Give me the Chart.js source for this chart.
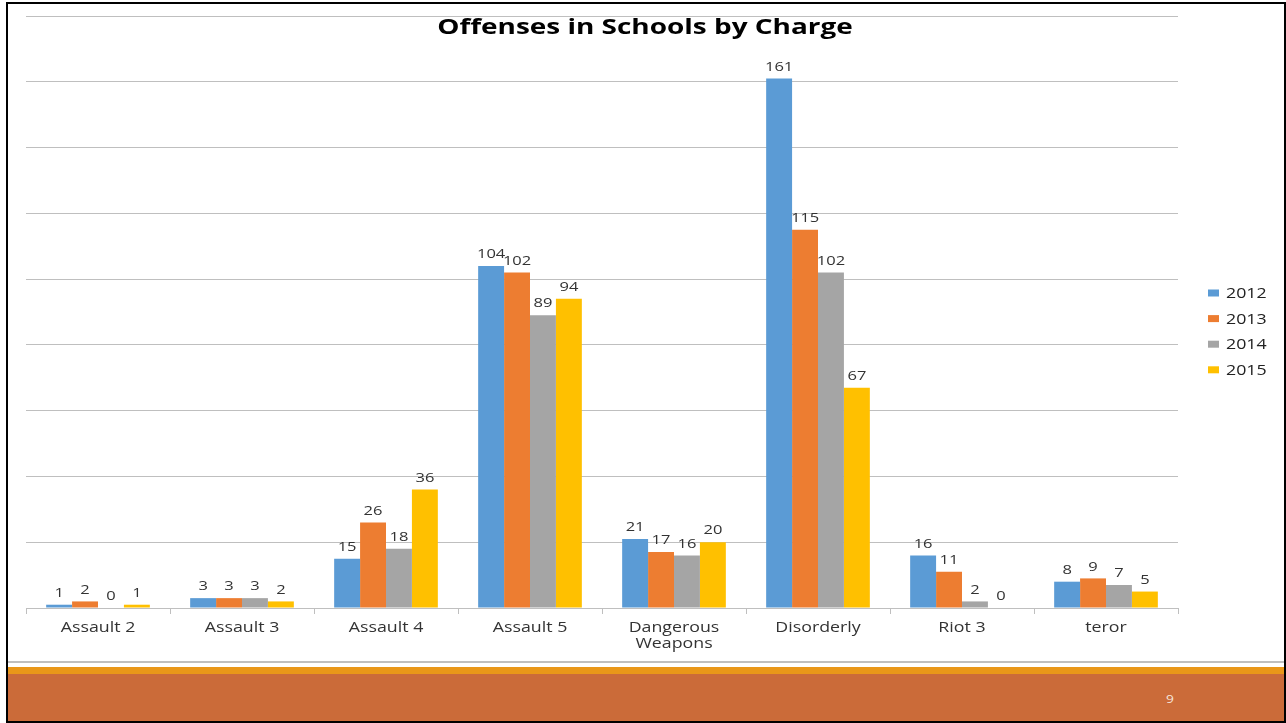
<!DOCTYPE html>
<html>
<head>
<meta charset="utf-8">
<title>Offenses in Schools by Charge</title>
<script src="https://cdn.jsdelivr.net/npm/chart.js@4.4.1/dist/chart.umd.min.js"></script>
<style>
  html, body { margin: 0; padding: 0; background: #fff; }
  #slide { position: relative; width: 1286px; height: 723px; overflow: hidden; background: #fff; }
  #chartBox { position: absolute; left: 0; top: 0; width: 1286px; height: 662px; }
  #rule { position: absolute; left: 8px; top: 661px; width: 1276px; height: 2px; background: #bfbfbf; }
  #stripe { position: absolute; left: 8px; top: 667px; width: 1276px; height: 7px; background: #e99719; }
  #band { position: absolute; left: 8px; top: 674px; width: 1276px; height: 47px; background: #cb6b39; }
  #pageNo { position: absolute; left: 1163px; top: 691px; width: 14px; text-align: center;
            font: 11px "Open Sans", sans-serif; color: #f6e6dc; transform: scaleX(1.25); }
  #frame { position: absolute; left: 6px; top: 2px; width: 1280px; height: 721px;
           border: 2px solid #000; box-sizing: border-box; pointer-events: none; }
</style>
</head>
<body>
<div id="slide">
  <div id="chartBox"><canvas id="chart" width="1286" height="662"></canvas></div>
  <div id="rule"></div>
  <div id="stripe"></div>
  <div id="band"></div>
  <div id="pageNo">9</div>
  <div id="frame"></div>
</div>
<script>
// Charges and yearly counts
const categories = ['Assault 2', 'Assault 3', 'Assault 4', 'Assault 5', ['Dangerous', 'Weapons'], 'Disorderly', 'Riot 3', 'teror'];
const years = ['2012', '2013', '2014', '2015'];
const counts2012 = [1, 3, 15, 104, 21, 161, 16, 8];
const counts2013 = [2, 3, 26, 102, 17, 115, 11, 9];
const counts2014 = [0, 3, 18, 89, 16, 102, 2, 7];
const counts2015 = [1, 2, 36, 94, 20, 67, 0, 5];
const yearColors = ['#5b9bd5', '#ed7d31', '#a5a5a5', '#ffc000'];
const chartTitle = 'Offenses in Schools by Charge';

const FONT = '"Open Sans", "DejaVu Sans", sans-serif';
const TEXT = '#404040';
const WIDE = 1.27; // slide text is set wide

// Draw text stretched horizontally around its anchor
function wideText(ctx, str, x, y, sx) {
  ctx.save();
  ctx.translate(x, y);
  ctx.scale(sx, 1);
  ctx.fillText(str, 0, 0);
  ctx.restore();
}

// Value labels above each bar
const valueLabels = {
  id: 'valueLabels',
  afterDatasetsDraw(chart) {
    const ctx = chart.ctx;
    ctx.save();
    ctx.font = '13px ' + FONT;
    ctx.fillStyle = '#333';
    ctx.textAlign = 'center';
    ctx.textBaseline = 'bottom';
    chart.data.datasets.forEach((ds, i) => {
      const meta = chart.getDatasetMeta(i);
      meta.data.forEach((bar, j) => {
        wideText(ctx, String(ds.data[j]), bar.x, bar.y - 5, WIDE);
      });
    });
    ctx.restore();
  }
};

// Category names under the axis
const categoryLabels = {
  id: 'categoryLabels',
  afterDraw(chart) {
    const ctx = chart.ctx;
    const xs = chart.scales.x;
    ctx.save();
    ctx.font = '14px ' + FONT;
    ctx.fillStyle = '#333';
    ctx.textAlign = 'center';
    ctx.textBaseline = 'middle';
    chart.data.labels.forEach((lab, i) => {
      const lines = Array.isArray(lab) ? lab : [lab];
      const x = xs.getPixelForTick(i);
      lines.forEach((ln, k) => {
        wideText(ctx, ln, x, xs.top + 20 + k * 16.5, WIDE);
      });
    });
    ctx.restore();
  }
};

// Title across the top
const topTitle = {
  id: 'topTitle',
  afterDraw(chart) {
    const ctx = chart.ctx;
    ctx.save();
    ctx.font = 'bold 22px ' + FONT;
    ctx.fillStyle = '#000';
    ctx.textAlign = 'center';
    ctx.textBaseline = 'middle';
    wideText(ctx, chartTitle, 645, 28, WIDE);
    ctx.restore();
  }
};

// Series key at the right
const sideLegend = {
  id: 'sideLegend',
  afterDraw(chart) {
    const ctx = chart.ctx;
    ctx.save();
    ctx.font = '14px ' + FONT;
    ctx.textBaseline = 'middle';
    ctx.textAlign = 'left';
    chart.data.datasets.forEach((ds, i) => {
      const cy = 293 + i * 25.6;
      ctx.fillStyle = ds.backgroundColor;
      ctx.fillRect(1208, cy - 3.5, 11, 7);
      ctx.fillStyle = '#222';
      wideText(ctx, ds.label, 1226, cy + 1, WIDE);
    });
    ctx.restore();
  }
};

const seriesValues = [counts2012, counts2013, counts2014, counts2015];

new Chart(document.getElementById('chart'), {
  type: 'bar',
  data: {
    labels: categories,
    datasets: years.map((y, i) => ({
      label: y,
      data: seriesValues[i],
      backgroundColor: yearColors[i],
      borderWidth: 0,
      barPercentage: 1.0,
      categoryPercentage: 0.72
    }))
  },
  options: {
    responsive: false,
    animation: false,
    devicePixelRatio: 1,
    layout: { padding: { left: 26, right: 108, top: 16, bottom: 0 } },
    plugins: {
      legend: { display: false },
      title: { display: false },
      tooltip: { enabled: false }
    },
    scales: {
      x: {
        offset: true,
        grid: {
          display: true,
          offset: true,
          drawOnChartArea: false,
          drawTicks: true,
          tickLength: 6,
          color: '#bfbfbf'
        },
        border: { display: true, color: '#bfbfbf', width: 1 },
        ticks: {
          color: 'rgba(0,0,0,0)',
          font: { family: FONT, size: 14 },
          padding: 4,
          maxRotation: 0,
          autoSkip: false
        },
        afterFit(scale) { scale.height = 54; }
      },
      y: {
        min: 0,
        max: 180,
        ticks: { display: false, stepSize: 20 },
        grid: { color: '#bfbfbf', drawTicks: false, lineWidth: 1 },
        border: { display: false },
        afterFit(scale) { scale.width = 0; }
      }
    }
  },
  plugins: [valueLabels, categoryLabels, topTitle, sideLegend]
});
</script>
</body>
</html>
